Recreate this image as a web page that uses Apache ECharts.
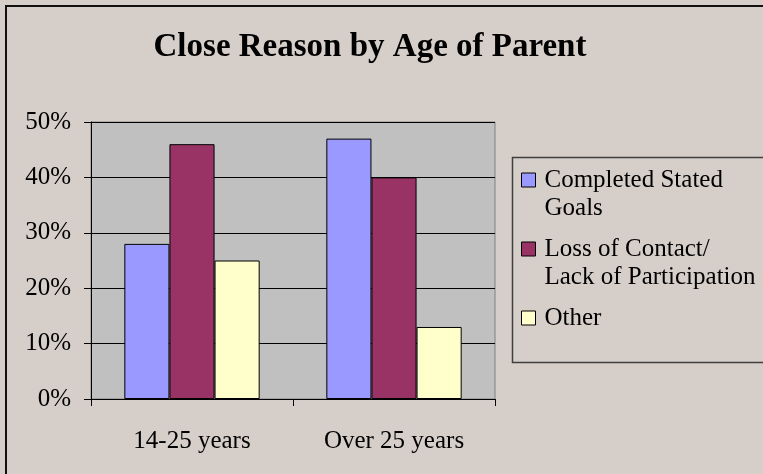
<!DOCTYPE html>
<html>
<head>
<meta charset="utf-8">
<script src="https://cdn.jsdelivr.net/npm/echarts@6/dist/echarts.min.js"></script>
<style>html,body{margin:0;padding:0;background:#D6CEC9;}#c{width:763px;height:474px;}</style>
</head>
<body>
<div id="c"></div>
<script>
var categories = ['14-25 years', 'Over 25 years'];
var seriesNames = ['Completed Stated Goals', 'Loss of Contact/ Lack of Participation', 'Other'];
var completedGoals = [28, 47];
var lossOfContact = [46, 40];
var other = [25, 13];
var yTicks = { min: 0, max: 50, interval: 10 };

var FONT = 'Liberation Serif';
var legendText = {
  'Completed Stated Goals': '\nCompleted Stated\nGoals',
  'Loss of Contact/ Lack of Participation': '\nLoss of Contact/\nLack of Participation',
  'Other': '\nOther\n'
};
var chart = echarts.init(document.getElementById('c'));
chart.setOption({
  backgroundColor: '#D6CEC9',
  animation: false,
  title: {
    text: 'Close Reason by Age of Parent',
    left: 370, top: 31, padding: 0, textAlign: 'center',
    textStyle: { fontFamily: FONT, fontWeight: 'bold', fontSize: 33, color: '#000' }
  },
  graphic: [
    { type: 'rect', shape: { x: 6, y: 6, width: 820, height: 520 }, style: { fill: 'none', stroke: '#111', lineWidth: 2 }, z: 100 },
    { type: 'rect', shape: { x: 512.5, y: 157.5, width: 300, height: 205 }, style: { fill: 'none', stroke: '#404040', lineWidth: 1.5 }, z: 100 }
  ],
  legend: {
    orient: 'vertical',
    left: 521, top: 138, padding: 0,
    itemWidth: 14, itemHeight: 14, itemGap: -15,
    icon: 'rect',
    itemStyle: { borderColor: '#000', borderWidth: 1 },
    textStyle: { fontFamily: FONT, fontSize: 25, color: '#000', lineHeight: 28, padding: [0, 0, 0, 4] },
    data: seriesNames,
    formatter: function (n) { return legendText[n] || n; }
  },
  grid: {
    left: 91, right: 268, top: 122, bottom: 75,
    show: true, backgroundColor: '#C0C0C0', borderColor: '#808080', borderWidth: 1
  },
  xAxis: {
    type: 'category', data: categories,
    axisLine: { lineStyle: { color: '#000', width: 1 } },
    axisTick: { show: true, length: 7, lineStyle: { color: '#000' } },
    axisLabel: { fontFamily: FONT, fontSize: 25, color: '#000', margin: 30 }
  },
  yAxis: {
    type: 'value', min: yTicks.min, max: yTicks.max, interval: yTicks.interval,
    axisLine: { show: true, lineStyle: { color: '#000', width: 1 } },
    axisTick: { show: true, length: 7, lineStyle: { color: '#000' } },
    splitLine: { show: true, lineStyle: { color: '#000', width: 1 } },
    axisLabel: { fontFamily: FONT, fontSize: 25, color: '#000', margin: 20, formatter: '{value}%' }
  },
  series: [
    { name: seriesNames[0], type: 'bar', data: completedGoals, barGap: '0%', barCategoryGap: '33%',
      itemStyle: { color: '#9999FF', borderColor: '#000', borderWidth: 1 } },
    { name: seriesNames[1], type: 'bar', data: lossOfContact,
      itemStyle: { color: '#993366', borderColor: '#000', borderWidth: 1 } },
    { name: seriesNames[2], type: 'bar', data: other,
      itemStyle: { color: '#FFFFCC', borderColor: '#000', borderWidth: 1 } }
  ]
});
</script>
</body>
</html>
